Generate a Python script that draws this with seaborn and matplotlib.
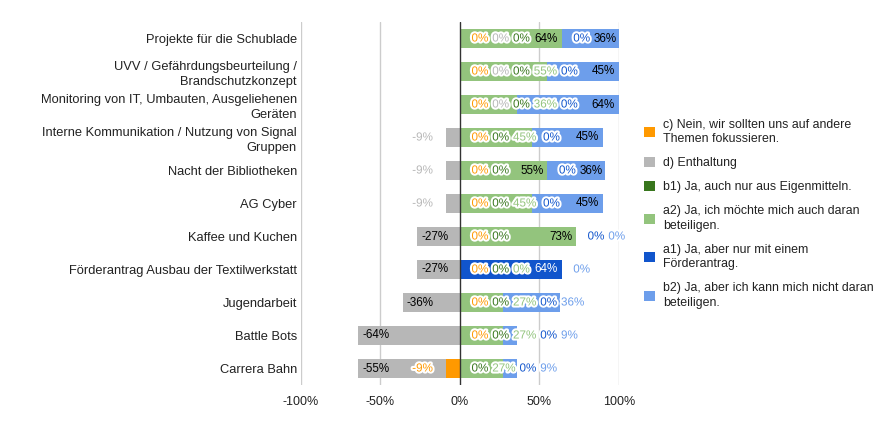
import numpy as np
import pandas as pd
import matplotlib
matplotlib.use('Agg')
import matplotlib.pyplot as plt
import matplotlib.patheffects as pe
from matplotlib.patches import Patch
import seaborn as sns

rows = ["Projekte für die Schublade",
        "UVV / Gefährdungsbeurteilung /\nBrandschutzkonzept",
        "Monitoring von IT, Umbauten, Ausgeliehenen\nGeräten",
        "Interne Kommunikation / Nutzung von Signal\nGruppen",
        "Nacht der Bibliotheken",
        "AG Cyber",
        "Kaffee und Kuchen",
        "Förderantrag Ausbau der Textilwerkstatt",
        "Jugendarbeit",
        "Battle Bots",
        "Carrera Bahn"]

# answer shares in percent (negative side: c, d)
c = [0, 0, 0, 0, 0, 0, 0, 0, 0, 0, -9]
d = [0, 0, 0, -9, -9, -9, -27, -27, -36, -64, -55]
b1 = [0, 0, 0, 0, 0, 0, 0, 0, 0, 0, 0]
a2 = [64, 55, 36, 45, 55, 45, 73, 0, 27, 27, 27]
a1 = [0, 0, 0, 0, 0, 0, 0, 64, 0, 0, 0]
b2 = [36, 45, 64, 45, 36, 45, 0, 0, 36, 9, 9]

legend_labels = ["c) Nein, wir sollten uns auf andere\nThemen fokussieren.",
                 "d) Enthaltung",
                 "b1) Ja, auch nur aus Eigenmitteln.",
                 "a2) Ja, ich möchte mich auch daran\nbeteiligen.",
                 "a1) Ja, aber nur mit einem\nFörderantrag.",
                 "b2) Ja, aber ich kann mich nicht daran\nbeteiligen."]

col = {'c': '#ff9900', 'd': '#b7b7b7', 'b1': '#38761d',
       'a2': '#93c47d', 'a1': '#1155cc', 'b2': '#6d9eeb'}
dark = {'b1', 'a1'}

sns.set_style('white')
plt.rcParams['font.family'] = ['Liberation Sans', 'DejaVu Sans']

df = pd.DataFrame({'row': rows, 'c': c, 'd': d, 'b1': b1, 'a2': a2, 'a1': a1, 'b2': b2})

fig = plt.figure(figsize=(8.95, 4.28), dpi=100)
ax = fig.add_axes([301/895, 1-385/428, 318/895, 363/428])

for xv in [-100, -50, 50, 100]:
    ax.axvline(xv, color='#cccccc', lw=1, zorder=0)

# stacked bars drawn as overlapping cumulative layers
layers = [(df.c + df.d, 'd'), (df.c, 'c'),
          (df.b1 + df.a2 + df.a1 + df.b2, 'b2'), (df.b1 + df.a2 + df.a1, 'a1'),
          (df.b1 + df.a2, 'a2'), (df.b1, 'b1')]
for vals, k in layers:
    sns.barplot(x=vals, y=df.row, orient='h', color=col[k], saturation=1,
                width=0.6, linewidth=0, ax=ax, zorder=2)

ax.axvline(0, color='#333333', lw=1, zorder=3)
ax.set_xlim(-100, 100)
ax.set_ylim(10.5, -0.5)
ax.set_xticks([-100, -50, 0, 50, 100])
ax.set_xticklabels(['-100%', '-50%', '0%', '50%', '100%'])
ax.set_xlabel('')
ax.set_ylabel('')
ax.tick_params(length=0, colors='#222222')
ax.tick_params(axis='x', pad=8, labelsize=9)
ax.tick_params(axis='y', pad=3, labelsize=9.3)
for t in ax.get_yticklabels():
    t.set_linespacing(1.3)
for s in ax.spines.values():
    s.set_visible(False)

# value labels, laid out roughly like the sheet chart does
fig.canvas.draw()
rend = fig.canvas.get_renderer()
ppu = ax.bbox.width / 200.0
halo = [pe.withStroke(linewidth=3, foreground='white')]
fs = 8.4


def put(i, txt, left, color, glow):
    t = ax.text(left, i, txt, ha='left', va='center', fontsize=fs, color=color, zorder=5)
    if glow:
        t.set_path_effects(halo)
    return t


def width_of(txt):
    t = ax.text(0, 0, txt, fontsize=fs)
    w = t.get_window_extent(rend).width / ppu
    t.remove()
    return w


gap = 4 / ppu
for i in range(len(rows)):
    vals = {k: df.loc[i, k] for k in ['c', 'd', 'b1', 'a2', 'a1', 'b2']}
    # negative side
    segs = {'c': (vals['c'], 0), 'd': (vals['c'] + vals['d'], vals['c'])}
    for k in ['c', 'd']:
        if vals[k] == 0:
            continue
        lo, hi = segs[k]
        txt = '%d%%' % vals[k]
        w = width_of(txt)
        if (hi - lo) * ppu >= w * ppu + 8:
            put(i, txt, lo + 4 / ppu, '#000000', False)
        else:
            put(i, txt, lo - 13 / ppu - w, col[k], True)
    # positive side
    items = []
    for k in ['c', 'd']:
        if vals[k] == 0:
            items.append((k, 0, 0, 0))
    cum = 0
    for k in ['b1', 'a2', 'a1', 'b2']:
        items.append((k, vals[k], cum, cum + vals[k]))
        cum += vals[k]
    prev = None
    for k, v, s, e in items:
        txt = '%d%%' % v
        w = width_of(txt)
        if v > 0:
            left = e - 4 / ppu - w
        else:
            left = e + 11.5 / ppu
        if prev is not None:
            left = max(left, prev + gap)
        prev = left + w
        if v > 0 and left >= s and prev <= e + 1 / ppu:
            put(i, txt, left, '#ffffff' if k in dark else '#000000', False)
        else:
            put(i, txt, left, col[k], True)

handles = [Patch(facecolor=col[k], edgecolor='none') for k in ['c', 'd', 'b1', 'a2', 'a1', 'b2']]
leg = fig.legend(handles, legend_labels, loc='upper left', bbox_to_anchor=(644/895, 1-118.5/428),
                 frameon=False, fontsize=8.9, handlelength=0.9, handleheight=0.9,
                 handletextpad=0.65, labelspacing=0.95, borderaxespad=0, borderpad=0,
                 labelcolor='#222222')
for t in leg.get_texts():
    t.set_linespacing(1.3)

fig.savefig('out.png', dpi=100)
